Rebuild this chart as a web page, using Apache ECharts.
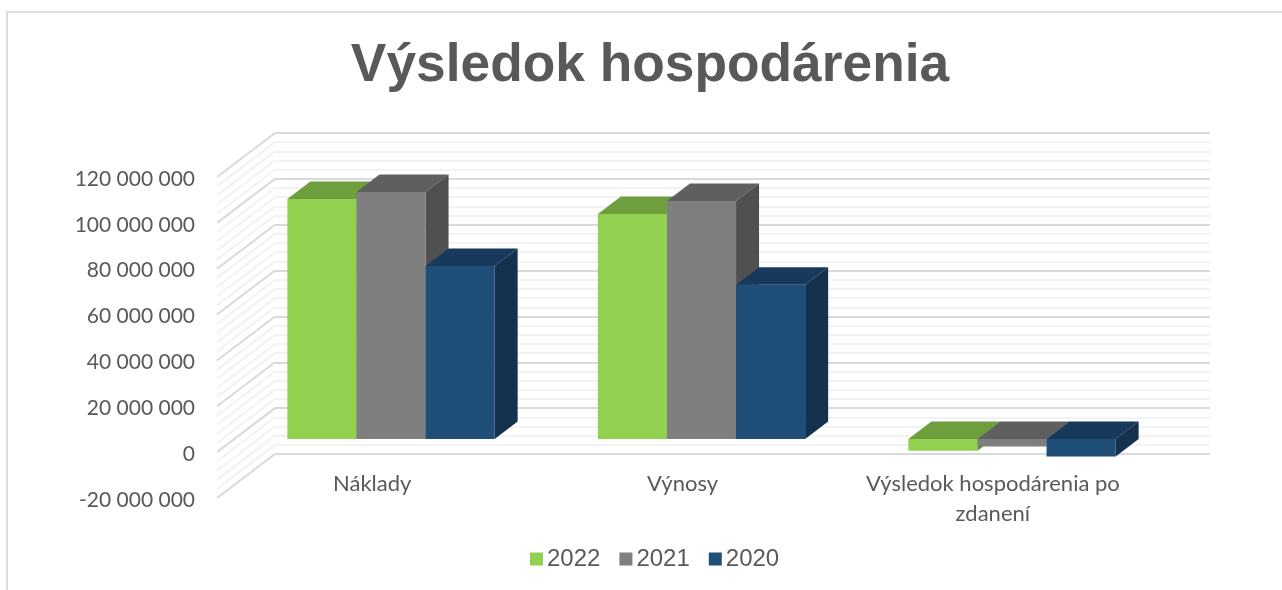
<!DOCTYPE html>
<html><head><meta charset="utf-8">
<style>html,body{margin:0;padding:0;background:#fff}#c{width:1282px;height:590px}</style>
<script src="https://cdn.jsdelivr.net/npm/echarts@6/dist/echarts.min.js"></script>
</head><body><div id="c"></div>
<script>
const categories = ['Náklady', 'Výnosy', 'Výsledok hospodárenia po\nzdanení'];
const seriesNames = ['2022', '2021', '2020'];
const values2022 = [104700000, 98100000, -5100000];
const values2021 = [107700000, 103800000, -3300000];
const values2020 = [75400000, 67200000, -7700000];
const wallTicks = [-20,-16,-12,-8,-4,0,4,8,12,16,20,24,28,32,36,40,44,48,52,56,60,64,68,72,76,80,84,88,92,96,100,104,108,112,116,120].map(v => v * 1000000);
const seriesValues = [values2022, values2021, values2020];
const fronts = ['#92D050', '#7F7F7F', '#1F4E79'];
const tops = ['#6F9E3C', '#5F5F5F', '#173A5C'];
const sides = ['#5F8A33', '#505050', '#14324E'];

const vmin = -20000000, vmax = 120000000, step = 20000000;
const fmt = v => String(v).replace(/\B(?=(\d{3})+(?!\d))/g, ' ');
const BAR_W = 69.1, DX = 23, DY = 17.5, WALL_DX = 58, WALL_DY = 44;

function barSeries(i) {
  return {
    type: 'custom', name: seriesNames[i], xAxisIndex: 1, yAxisIndex: 1, z: 5,
    itemStyle: { color: fronts[i] },
    data: seriesValues[i].map((v, k) => [k, v]),
    renderItem(params, api) {
      const p = api.coord([api.value(0), api.value(1)]);
      const z = api.coord([api.value(0), 0]);
      const x0 = p[0] + (i - 1.5) * BAR_W, x1 = x0 + BAR_W;
      const yTop = Math.min(p[1], z[1]), yBot = Math.max(p[1], z[1]);
      const poly = (pts, fill) => ({ type: 'polygon', shape: { points: pts }, style: { fill } });
      return { type: 'group', children: [
        poly([[x0, yTop], [x1, yTop], [x1 + DX, yTop - DY], [x0 + DX, yTop - DY]], tops[i]),
        poly([[x1, yTop], [x1 + DX, yTop - DY], [x1 + DX, yBot - DY], [x1, yBot]], sides[i]),
        poly([[x0, yTop], [x1, yTop], [x1, yBot], [x0, yBot]], fronts[i])
      ]};
    }
  };
}

const wallSeries = {
  type: 'custom', xAxisIndex: 2, yAxisIndex: 2, z: 1, silent: true, legendHoverLink: false,
  data: wallTicks.map(v => [0, v]),
  renderItem(params, api) {
    const v = api.value(1);
    const p = api.coord([0, v]);
    const x = params.coordSys.x;
    const major = v % step === 0;
    return { type: 'line',
      shape: { x1: x - WALL_DX, y1: p[1] + WALL_DY, x2: x, y2: p[1] },
      style: { stroke: major ? '#D9D9D9' : '#F2F2F2', lineWidth: 2 } };
  }
};

const chart = echarts.init(document.getElementById('c'), null, { renderer: 'canvas' });
chart.setOption({
  animation: false,
  backgroundColor: '#fff',
  title: { text: 'Výsledok hospodárenia', left: 645, top: 35, textAlign: 'center',
    textStyle: { fontFamily: 'Liberation Sans', fontWeight: 'bold', fontSize: 53.3, color: '#595959' } },
  legend: { data: seriesNames, left: 525, top: 542, itemWidth: 13, itemHeight: 13, itemGap: 19, icon: 'rect',
    textStyle: { fontFamily: 'Liberation Sans', fontSize: 24, color: '#595959', padding: [0, 0, 0, -1] } },
  grid: [
    { left: 217, top: 179, width: 931, height: 321 },
    { left: 235.75, top: 163.8, width: 931.5, height: 321 },
    { left: 275, top: 133, width: 935, height: 321 }
  ],
  xAxis: [
    { type: 'category', gridIndex: 0, data: categories, offset: -31,
      axisLine: { show: false }, axisTick: { show: false },
      axisLabel: { margin: 0, interval: 0, fontFamily: 'Lato', fontSize: 22, lineHeight: 30, color: '#595959' } },
    { type: 'category', gridIndex: 1, data: categories, show: false },
    { type: 'category', gridIndex: 2, data: categories, show: false }
  ],
  yAxis: [
    { type: 'value', gridIndex: 0, min: vmin, max: vmax, interval: step,
      axisLine: { show: false }, axisTick: { show: false }, splitLine: { show: false },
      axisLabel: { margin: 22, fontFamily: 'Lato', fontSize: 21, color: '#595959', formatter: fmt } },
    { type: 'value', gridIndex: 1, min: vmin, max: vmax, interval: step, show: false, splitLine: { show: false } },
    { type: 'value', gridIndex: 2, min: vmin, max: vmax, interval: step,
      axisLine: { show: false }, axisTick: { show: false }, axisLabel: { show: false },
      splitLine: { show: true, lineStyle: { color: '#D9D9D9', width: 2 } },
      minorTick: { show: false, splitNumber: 5 },
      minorSplitLine: { show: true, lineStyle: { color: '#F2F2F2', width: 2 } } }
  ],
  series: [wallSeries, barSeries(0), barSeries(1), barSeries(2)],
  graphic: [
    { type: 'polyline', silent: true, shape: { points: [[7, 590], [7, 12], [1282, 12]] },
      style: { stroke: '#DEDEDE', lineWidth: 2, fill: 'none' } }
  ]
});
</script></body></html>
